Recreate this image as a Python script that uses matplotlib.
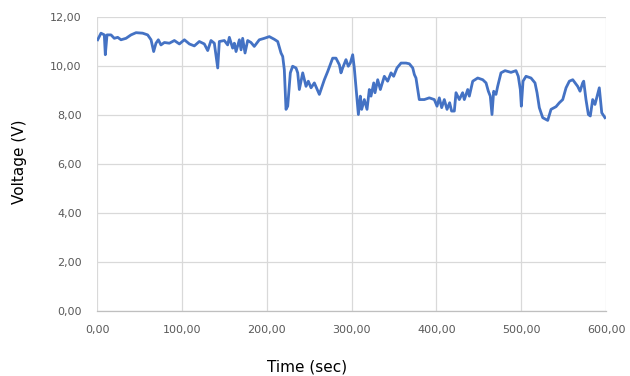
import matplotlib
matplotlib.use("Agg")
import matplotlib.pyplot as plt
from matplotlib.ticker import FuncFormatter, MultipleLocator

time_sec = [0.8, 4.7, 8.6, 9.8, 11.8, 16.5, 20.4, 24.4, 28.3, 34.2, 40.1, 46.0, 53.8, 59.7,
            63.7, 66.8, 69.5, 72.3, 75.4, 79.4, 85.3, 91.2, 97.1, 103.0, 108.9, 114.7, 120.6,
            126.5, 130.5, 134.4, 138.3, 142.3, 144.2, 150.1, 154.0, 156.0, 159.9, 161.9, 163.9,
            167.8, 169.8, 171.7, 174.5, 177.6, 181.5, 185.4, 191.3, 197.2, 203.1, 209.0, 213.0,
            216.9, 218.9, 220.8, 222.8, 224.8, 227.9, 230.6, 234.6, 236.6, 238.5, 242.5, 246.4,
            249.1, 252.3, 256.2, 262.1, 268.0, 272.0, 277.8, 281.7, 285.7, 287.6, 289.6, 293.5,
            296.2, 298.6, 301.4, 303.3, 306.5, 308.1, 310.4, 312.0, 315.1, 318.3, 321.0, 323.0,
            326.2, 327.7, 330.9, 334.0, 338.7, 342.6, 346.6, 349.7, 353.6, 358.4, 364.3, 368.2,
            372.2, 374.1, 376.0, 379.9, 385.8, 391.7, 397.6, 400.8, 403.5, 406.3, 409.4, 412.6,
            415.7, 418.0, 421.2, 423.2, 427.1, 431.0, 433.0, 437.0, 438.9, 442.9, 448.8, 454.7,
            458.6, 461.3, 463.6, 465.6, 467.6, 470.3, 472.3, 476.2, 481.0, 488.0, 493.9, 496.6,
            499.0, 500.2, 502.2, 505.7, 511.6, 516.3, 518.7, 521.4, 525.4, 531.3, 535.2, 541.1,
            545.0, 549.0, 552.9, 556.8, 560.8, 566.6, 569.4, 572.5, 573.7, 576.4, 579.2, 581.5,
            584.3, 587.0, 592.1, 595.0, 598.8]
voltage = [11.07, 11.34, 11.27, 10.46, 11.27, 11.27, 11.13, 11.17, 11.07, 11.13, 11.27, 11.36,
           11.34, 11.27, 11.07, 10.59, 10.93, 11.07, 10.86, 10.96, 10.93, 11.04, 10.90, 11.07,
           10.90, 10.82, 11.00, 10.90, 10.63, 11.04, 10.93, 9.92, 11.00, 11.04, 10.86, 11.17,
           10.73, 10.93, 10.59, 11.07, 10.66, 11.13, 10.53, 11.04, 10.96, 10.80, 11.07, 11.13,
           11.20, 11.09, 11.00, 10.53, 10.39, 9.85, 8.23, 8.36, 9.72, 9.99, 9.92, 9.72, 9.04,
           9.72, 9.17, 9.38, 9.11, 9.31, 8.84, 9.44, 9.78, 10.32, 10.32, 10.05, 9.72, 9.92,
           10.26, 9.99, 10.12, 10.46, 9.92, 8.63, 8.02, 8.77, 8.23, 8.63, 8.23, 9.04, 8.77,
           9.31, 8.91, 9.44, 9.04, 9.58, 9.38, 9.72, 9.58, 9.92, 10.12, 10.12, 10.09, 9.92,
           9.65, 9.51, 8.63, 8.63, 8.70, 8.63, 8.36, 8.70, 8.30, 8.63, 8.23, 8.50, 8.16, 8.16,
           8.91, 8.63, 8.91, 8.63, 9.04, 8.77, 9.38, 9.51, 9.44, 9.31, 8.97, 8.77, 8.02, 8.97,
           8.84, 9.17, 9.72, 9.81, 9.74, 9.81, 9.58, 9.04, 8.36, 9.38, 9.58, 9.51, 9.31, 8.91,
           8.30, 7.89, 7.78, 8.23, 8.34, 8.50, 8.63, 9.11, 9.38, 9.44, 9.17, 8.97, 9.31, 9.38,
           8.63, 8.02, 7.96, 8.63, 8.43, 9.11, 8.09, 7.89]

x_label = "Time (sec)"
y_label = "Voltage (V)"

W, H = 630, 376
fig = plt.figure(figsize=(W / 100, H / 100), dpi=100)
ax = fig.add_axes([97 / W, 1 - 311 / H, (606 - 97) / W, (311 - 17) / H])

ax.plot(time_sec, voltage, color="#4472C4", lw=2.0, solid_joinstyle="round")

ax.set_xlim(0, 600)
ax.set_ylim(0, 12)
ax.xaxis.set_major_locator(MultipleLocator(100))
ax.yaxis.set_major_locator(MultipleLocator(2))
fmt = FuncFormatter(lambda v, p: f"{v:.2f}".replace(".", ","))
ax.xaxis.set_major_formatter(fmt)
ax.yaxis.set_major_formatter(fmt)

ax.grid(True, color="#d9d9d9", lw=0.9)
ax.set_axisbelow(True)
for s in ["top", "right", "left"]:
    ax.spines[s].set_visible(False)
ax.spines["bottom"].set_color("#bfbfbf")
ax.spines["bottom"].set_linewidth(0.9)
ax.tick_params(axis="x", length=0, labelsize=8, labelcolor="#595959", pad=10)
ax.tick_params(axis="y", length=0, labelsize=8, labelcolor="#595959", pad=11)
for lab in ax.get_xticklabels() + ax.get_yticklabels():
    lab.set_family("DejaVu Sans")

fig.text(307 / W, 1 - 367 / H, x_label, fontsize=11, family="DejaVu Sans",
         color="#000000", ha="center", va="center")
fig.text(20 / W, 1 - 162 / H, y_label, fontsize=11, family="DejaVu Sans",
         color="#000000", ha="center", va="center", rotation=90)

fig.savefig("out.png", dpi=100)
